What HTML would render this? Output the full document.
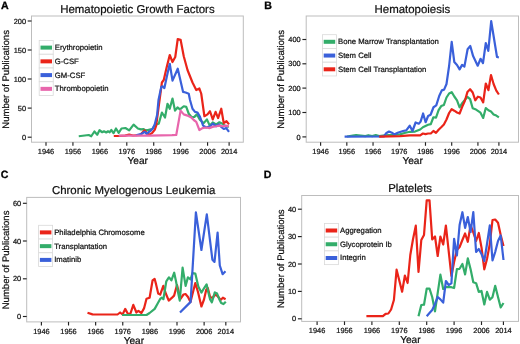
<!DOCTYPE html><html><head><meta charset="utf-8"><style>
html,body{margin:0;padding:0;background:#fff;width:520px;height:344px;overflow:hidden}
svg{display:block;filter:blur(0.3px)}
text{font-family:"Liberation Sans", sans-serif;stroke:#111;stroke-width:0.22px;text-rendering:geometricPrecision}
</style></head><body>
<svg width="520" height="344" viewBox="0 0 520 344">
<rect width="520" height="344" fill="#fff"/>
<g><text x="1" y="8.6" font-size="10.6" font-weight="bold" fill="#000" style="stroke:#000;stroke-width:0.3px">A</text><text x="137.4" y="13" font-size="11.45" text-anchor="middle" fill="#111">Hematopoietic Growth Factors</text><rect x="31.5" y="16" width="211.8" height="126.2" fill="none" stroke="#bdbdbd" stroke-width="1"/><line x1="27.7" y1="137.2" x2="31.5" y2="137.2" stroke="#222222" stroke-width="1.15"/><text x="26" y="139.8" font-size="7.4" text-anchor="end" fill="#111111">0</text><line x1="27.7" y1="108.1" x2="31.5" y2="108.1" stroke="#222222" stroke-width="1.15"/><text x="26" y="110.7" font-size="7.4" text-anchor="end" fill="#111111">50</text><line x1="27.7" y1="79" x2="31.5" y2="79" stroke="#222222" stroke-width="1.15"/><text x="26" y="81.6" font-size="7.4" text-anchor="end" fill="#111111">100</text><line x1="27.7" y1="50" x2="31.5" y2="50" stroke="#222222" stroke-width="1.15"/><text x="26" y="52.6" font-size="7.4" text-anchor="end" fill="#111111">150</text><line x1="27.7" y1="21" x2="31.5" y2="21" stroke="#222222" stroke-width="1.15"/><text x="26" y="23.6" font-size="7.4" text-anchor="end" fill="#111111">200</text><line x1="46" y1="142.2" x2="46" y2="145.8" stroke="#222222" stroke-width="1.15"/><text x="46" y="153.8" font-size="7.4" text-anchor="middle" fill="#111111">1946</text><line x1="72.93" y1="142.2" x2="72.93" y2="145.8" stroke="#222222" stroke-width="1.15"/><text x="72.93" y="153.8" font-size="7.4" text-anchor="middle" fill="#111111">1956</text><line x1="99.86" y1="142.2" x2="99.86" y2="145.8" stroke="#222222" stroke-width="1.15"/><text x="99.86" y="153.8" font-size="7.4" text-anchor="middle" fill="#111111">1966</text><line x1="126.79" y1="142.2" x2="126.79" y2="145.8" stroke="#222222" stroke-width="1.15"/><text x="126.79" y="153.8" font-size="7.4" text-anchor="middle" fill="#111111">1976</text><line x1="153.72" y1="142.2" x2="153.72" y2="145.8" stroke="#222222" stroke-width="1.15"/><text x="153.72" y="153.8" font-size="7.4" text-anchor="middle" fill="#111111">1986</text><line x1="180.65" y1="142.2" x2="180.65" y2="145.8" stroke="#222222" stroke-width="1.15"/><text x="180.65" y="153.8" font-size="7.4" text-anchor="middle" fill="#111111">1996</text><line x1="207.58" y1="142.2" x2="207.58" y2="145.8" stroke="#222222" stroke-width="1.15"/><text x="207.58" y="153.8" font-size="7.4" text-anchor="middle" fill="#111111">2006</text><line x1="229.12" y1="142.2" x2="229.12" y2="145.8" stroke="#222222" stroke-width="1.15"/><text x="229.12" y="153.8" font-size="7.4" text-anchor="middle" fill="#111111">2014</text><text x="137.7" y="163.8" font-size="10.1" text-anchor="middle" fill="#111111">Year</text><text transform="translate(9.3 79.4) rotate(-90)" font-size="9.55" text-anchor="middle" fill="#111111">Number of Publications</text><polyline points="78.75,136.25 88.75,135 91.25,136.25 94.4,131.5 97.25,134.75 99.5,130.25 102.25,132.25 104,131.25 106.25,132.5 108,131.25 109.75,132.25 111.25,130 113.5,133.2 116,128.5 118.7,132.8 121.5,128.5 125.4,128 129.2,130.4 133.6,124.6 137.9,128.5 140.8,129.4 143.7,129.2 145.6,130.4 148.5,129.9 152.3,129 155.2,124.6 158.75,123.75 161.9,112.5 165,117.5 167.5,103.75 169.75,108.75 172.5,98.5 175,110.6 177.5,107.5 180,109.4 183.75,106.25 186.25,106.9 188.75,113.75 191.9,117.5 194.4,116.9 196.9,114.4 200,120 203.75,123.1 206.9,119.4 209.75,125.6 212.75,122.5 216.25,124.4 219.4,122.25 222.5,123.75 225.6,126.25 228.75,126.9" fill="none" stroke="#33ad6a" stroke-width="2.2" stroke-linejoin="round" stroke-linecap="butt"/><polyline points="113.8,136 118.7,136 125,135.6 129.2,134.7 133,135.5 140,135 144.6,130.4 147,133.3 149.4,134.7 152.3,132.8 154.7,129.9 156.2,125.6 158.5,108 161.9,82.5 163.75,80 166.5,68 169.75,55 172.5,62 175.25,57 177.75,39 180.6,39.75 183.75,56.25 187.5,70 192.5,82.5 196.25,90 199.4,88.5 201.25,93.75 204.4,116.25 207.5,114.4 210,111.25 212.75,119.4 215.6,111.9 218.1,118.1 221.25,108.75 223.75,123.1 226.5,121.25 229,124.4" fill="none" stroke="#ea2419" stroke-width="2.2" stroke-linejoin="round" stroke-linecap="butt"/><polyline points="136,135.2 141.7,133.75 144.6,131.8 146.5,133.75 150.4,130.9 152.8,128.5 154.7,124.6 157.1,115 158.5,100 161.25,86.9 162.5,86.25 164.4,88.1 166.9,76.25 169.75,63.75 172.5,80.6 177.75,68.75 183.1,91.9 185.6,92.5 188.75,93.75 190,100 192.5,108.75 195,111.9 197.5,112.5 200,116.9 203.1,125.6 206.25,127.5 210,126.25 212.75,123.75 216.25,126.25 218.75,124.4 221.9,127.5 223.75,129 226.25,128.1 229,131.9" fill="none" stroke="#3a60da" stroke-width="2.2" stroke-linejoin="round" stroke-linecap="butt"/><polyline points="118.7,135.7 150,135.6 172,135.2 176.25,135 180.6,110.6 183.75,114.4 187.5,115.6 191.25,117.5 193.75,120 196.25,121.9 199.4,130 202.5,128.1 206.25,127.5 209.4,128.1 212.5,126.9 216.25,126.25 219.4,125.6 222.5,126.25 225.6,125.6 228.75,126.25" fill="none" stroke="#e866ac" stroke-width="2.2" stroke-linejoin="round" stroke-linecap="butt"/><rect x="39.2" y="40.5" width="14" height="13.75" fill="#fff" stroke="#d9d9d9" stroke-width="0.8"/><rect x="40.5" y="45.6" width="11.5" height="4" fill="#33ad6a"/><text x="54.8" y="50" font-size="7.72" fill="#111111">Erythropoietin</text><rect x="39.2" y="54.25" width="14" height="13.75" fill="#fff" stroke="#d9d9d9" stroke-width="0.8"/><rect x="40.5" y="59.35" width="11.5" height="4" fill="#ea2419"/><text x="54.8" y="63.75" font-size="7.72" fill="#111111">G-CSF</text><rect x="39.2" y="68" width="14" height="13.75" fill="#fff" stroke="#d9d9d9" stroke-width="0.8"/><rect x="40.5" y="73.1" width="11.5" height="4" fill="#3a60da"/><text x="54.8" y="77.5" font-size="7.72" fill="#111111">GM-CSF</text><rect x="39.2" y="81.75" width="14" height="13.75" fill="#fff" stroke="#d9d9d9" stroke-width="0.8"/><rect x="40.5" y="86.85" width="11.5" height="4" fill="#e866ac"/><text x="54.8" y="91.25" font-size="7.72" fill="#111111">Thrombopoietin</text></g>
<g><text x="264.2" y="8.6" font-size="10.6" font-weight="bold" fill="#000" style="stroke:#000;stroke-width:0.3px">B</text><text x="412.35" y="13" font-size="11.45" text-anchor="middle" fill="#111">Hematopoiesis</text><rect x="306.2" y="16" width="212.3" height="126.2" fill="none" stroke="#bdbdbd" stroke-width="1"/><line x1="302.4" y1="136.9" x2="306.2" y2="136.9" stroke="#222222" stroke-width="1.15"/><text x="300.7" y="139.5" font-size="7.4" text-anchor="end" fill="#111111">0</text><line x1="302.4" y1="112.5" x2="306.2" y2="112.5" stroke="#222222" stroke-width="1.15"/><text x="300.7" y="115.1" font-size="7.4" text-anchor="end" fill="#111111">100</text><line x1="302.4" y1="88.1" x2="306.2" y2="88.1" stroke="#222222" stroke-width="1.15"/><text x="300.7" y="90.7" font-size="7.4" text-anchor="end" fill="#111111">200</text><line x1="302.4" y1="63.8" x2="306.2" y2="63.8" stroke="#222222" stroke-width="1.15"/><text x="300.7" y="66.4" font-size="7.4" text-anchor="end" fill="#111111">300</text><line x1="302.4" y1="39.5" x2="306.2" y2="39.5" stroke="#222222" stroke-width="1.15"/><text x="300.7" y="42.1" font-size="7.4" text-anchor="end" fill="#111111">400</text><line x1="320.6" y1="142.2" x2="320.6" y2="145.8" stroke="#222222" stroke-width="1.15"/><text x="320.6" y="153.8" font-size="7.4" text-anchor="middle" fill="#111111">1946</text><line x1="346.82" y1="142.2" x2="346.82" y2="145.8" stroke="#222222" stroke-width="1.15"/><text x="346.82" y="153.8" font-size="7.4" text-anchor="middle" fill="#111111">1956</text><line x1="373.04" y1="142.2" x2="373.04" y2="145.8" stroke="#222222" stroke-width="1.15"/><text x="373.04" y="153.8" font-size="7.4" text-anchor="middle" fill="#111111">1966</text><line x1="399.26" y1="142.2" x2="399.26" y2="145.8" stroke="#222222" stroke-width="1.15"/><text x="399.26" y="153.8" font-size="7.4" text-anchor="middle" fill="#111111">1976</text><line x1="425.48" y1="142.2" x2="425.48" y2="145.8" stroke="#222222" stroke-width="1.15"/><text x="425.48" y="153.8" font-size="7.4" text-anchor="middle" fill="#111111">1986</text><line x1="451.7" y1="142.2" x2="451.7" y2="145.8" stroke="#222222" stroke-width="1.15"/><text x="451.7" y="153.8" font-size="7.4" text-anchor="middle" fill="#111111">1996</text><line x1="477.92" y1="142.2" x2="477.92" y2="145.8" stroke="#222222" stroke-width="1.15"/><text x="477.92" y="153.8" font-size="7.4" text-anchor="middle" fill="#111111">2006</text><line x1="498.9" y1="142.2" x2="498.9" y2="145.8" stroke="#222222" stroke-width="1.15"/><text x="498.9" y="153.8" font-size="7.4" text-anchor="middle" fill="#111111">2014</text><text x="412.65" y="163.8" font-size="10.1" text-anchor="middle" fill="#111111">Year</text><text transform="translate(284 79.4) rotate(-90)" font-size="9.55" text-anchor="middle" fill="#111111">Number of Publications</text><polyline points="347,136.5 352.7,135.6 356.1,135 360.8,135.6 365.4,136.1 368.3,135.2 372.3,136.1 375.8,135 379.2,136.1 383,135.6 388.4,135 394.2,135 400,134.4 404.5,133 409.8,131.8 415,131.6 420.2,129.5 422.9,127.25 425.5,126 428.1,124.8 430.8,124.1 433.4,117.25 436,117.7 438.6,110.2 441.2,106.1 443.9,104.9 446.5,97.5 449.1,93.5 451.7,92.1 454.3,96.5 457,100.3 459.6,107.3 462.2,103.2 464.8,100 467.4,96.8 470.1,99.1 472.7,108.2 475.3,109.2 477.9,110.9 480.5,112.7 483.2,117.9 485.8,108 488.4,110.3 491,111.5 493.6,114.4 496.3,115.6 498.9,117.3" fill="none" stroke="#33ad6a" stroke-width="2.2" stroke-linejoin="round" stroke-linecap="butt"/><polyline points="344.6,136.7 383.8,136.5 386.1,133.3 389,131.5 391.9,132.7 394.2,134.4 397.7,132.7 400,132 403.1,131 406.25,130.4 409.75,125.75 412.5,131 415.6,122.5 418.75,123.75 420.6,121.6 423.1,113.5 425.6,122.25 428.1,116 430.6,114.75 433.5,107.25 436.25,105.4 439.2,96 441.8,90.4 444.1,89.6 446.5,84 449.1,66 451.7,41.9 454.3,62 457,65 459.6,69.4 462.1,64.9 464.4,66.6 467.6,49.3 470.3,46 473.1,56.1 477.7,65.7 480.6,58.8 483,63.1 485.8,43 488.3,50.9 491.2,21.2 497,57 498.9,57.4" fill="none" stroke="#3a60da" stroke-width="2.2" stroke-linejoin="round" stroke-linecap="butt"/><polyline points="379.2,136.7 400,136.1 409.8,135.4 420.2,135.4 422.9,133.5 425.5,134.1 428.1,133.5 430.8,133.5 433.4,131 436,132.9 438.6,129.75 441.2,127.25 443.9,124.5 446.5,119.5 449.1,113 451.7,109.2 454.3,110.7 457,112.5 459.6,113.5 462.2,106.8 464.8,101 467.4,92.1 470.1,89.2 472.7,92.5 475.3,100.3 477.9,96.7 480.5,97.5 483.2,102.4 485.8,83.5 488.4,90.2 491,75 493.6,84 496.3,90.6 498.9,94.5" fill="none" stroke="#ea2419" stroke-width="2.2" stroke-linejoin="round" stroke-linecap="butt"/><rect x="322.4" y="34.7" width="14" height="13.75" fill="#fff" stroke="#d9d9d9" stroke-width="0.8"/><rect x="323.7" y="39.8" width="11.5" height="4" fill="#33ad6a"/><text x="338" y="44.2" font-size="7.72" fill="#111111">Bone Marrow Transplantation</text><rect x="322.4" y="48.45" width="14" height="13.75" fill="#fff" stroke="#d9d9d9" stroke-width="0.8"/><rect x="323.7" y="53.55" width="11.5" height="4" fill="#3a60da"/><text x="338" y="57.95" font-size="7.72" fill="#111111">Stem Cell</text><rect x="322.4" y="62.2" width="14" height="13.75" fill="#fff" stroke="#d9d9d9" stroke-width="0.8"/><rect x="323.7" y="67.3" width="11.5" height="4" fill="#ea2419"/><text x="338" y="71.7" font-size="7.72" fill="#111111">Stem Cell Transplantation</text></g>
<g><text x="0.8" y="177.9" font-size="10.6" font-weight="bold" fill="#000" style="stroke:#000;stroke-width:0.3px">C</text><text x="133.6" y="194.4" font-size="11.45" text-anchor="middle" fill="#111">Chronic Myelogenous Leukemia</text><rect x="26.7" y="197.4" width="213.8" height="124.5" fill="none" stroke="#bdbdbd" stroke-width="1"/><line x1="22.9" y1="316.5" x2="26.7" y2="316.5" stroke="#222222" stroke-width="1.15"/><text x="21.2" y="319.1" font-size="7.4" text-anchor="end" fill="#111111">0</text><line x1="22.9" y1="278.8" x2="26.7" y2="278.8" stroke="#222222" stroke-width="1.15"/><text x="21.2" y="281.4" font-size="7.4" text-anchor="end" fill="#111111">20</text><line x1="22.9" y1="241" x2="26.7" y2="241" stroke="#222222" stroke-width="1.15"/><text x="21.2" y="243.6" font-size="7.4" text-anchor="end" fill="#111111">40</text><line x1="22.9" y1="203.3" x2="26.7" y2="203.3" stroke="#222222" stroke-width="1.15"/><text x="21.2" y="205.9" font-size="7.4" text-anchor="end" fill="#111111">60</text><line x1="41.4" y1="321.9" x2="41.4" y2="325.5" stroke="#222222" stroke-width="1.15"/><text x="41.4" y="333.5" font-size="7.4" text-anchor="middle" fill="#111111">1946</text><line x1="68.52" y1="321.9" x2="68.52" y2="325.5" stroke="#222222" stroke-width="1.15"/><text x="68.52" y="333.5" font-size="7.4" text-anchor="middle" fill="#111111">1956</text><line x1="95.64" y1="321.9" x2="95.64" y2="325.5" stroke="#222222" stroke-width="1.15"/><text x="95.64" y="333.5" font-size="7.4" text-anchor="middle" fill="#111111">1966</text><line x1="122.76" y1="321.9" x2="122.76" y2="325.5" stroke="#222222" stroke-width="1.15"/><text x="122.76" y="333.5" font-size="7.4" text-anchor="middle" fill="#111111">1976</text><line x1="149.88" y1="321.9" x2="149.88" y2="325.5" stroke="#222222" stroke-width="1.15"/><text x="149.88" y="333.5" font-size="7.4" text-anchor="middle" fill="#111111">1986</text><line x1="177" y1="321.9" x2="177" y2="325.5" stroke="#222222" stroke-width="1.15"/><text x="177" y="333.5" font-size="7.4" text-anchor="middle" fill="#111111">1996</text><line x1="204.12" y1="321.9" x2="204.12" y2="325.5" stroke="#222222" stroke-width="1.15"/><text x="204.12" y="333.5" font-size="7.4" text-anchor="middle" fill="#111111">2006</text><line x1="225.82" y1="321.9" x2="225.82" y2="325.5" stroke="#222222" stroke-width="1.15"/><text x="225.82" y="333.5" font-size="7.4" text-anchor="middle" fill="#111111">2014</text><text x="133.9" y="343.5" font-size="10.1" text-anchor="middle" fill="#111111">Year</text><text transform="translate(9.1 259.95) rotate(-90)" font-size="9.55" text-anchor="middle" fill="#111111">Number of Publications</text><polyline points="87.5,312.75 92.5,314.4 117.5,314.5 120.1,312.5 122.6,314.5 125.2,308.9 127.7,313.5 130.3,314 133.3,304.8 136.4,312.5 138.4,310.9 141.4,313 144,308.4 146.5,298.7 149.6,297.7 152.6,280.3 154.6,278.8 156.1,284.4 158.2,293.5 160.2,294.6 163.3,285.9 165.8,293.5 168.75,300.6 171.5,298.2 174.1,295.6 177,285 180.3,299 183.5,294.5 185.5,294 188,297 190.5,302 195.3,283.1 198,292 201.4,306.5 204,299.5 206.3,289.5 207.8,288 210.1,297 212.5,298 215,294.5 217.5,296 220.6,300 222.9,297.7 225.6,299.2" fill="none" stroke="#ea2419" stroke-width="2.2" stroke-linejoin="round" stroke-linecap="butt"/><polyline points="122.1,315 146.5,315 149.6,313 154.7,308.9 157.8,303.3 160.3,298.7 161.9,297.7 163.4,299.2 166.3,281.3 168.9,277.3 171.4,280.3 174.2,272.7 176,281.3 178.5,294.6 179.75,300.6 182.6,267.6 185.6,285.9 187.9,277.4 190.6,279.4 192.5,273.1 195.3,273.5 198.3,286.5 201.4,292.6 204.3,287.8 206.6,284.3 208.4,292.4 210.1,299.4 211.9,302.3 214.8,292.4 217.1,293.6 219.4,299.4 221.2,302.9 223.5,304.1 225.8,301.7" fill="none" stroke="#33ad6a" stroke-width="2.2" stroke-linejoin="round" stroke-linecap="butt"/><polyline points="180,312.5 189.4,303.1 190.6,301.9 195.9,212.3 201.4,250 206.8,214.4 212.4,259.7 214.5,261.9 217.6,232.6 219.8,265.5 222.6,274.2 225.5,271.3" fill="none" stroke="#3a60da" stroke-width="2.2" stroke-linejoin="round" stroke-linecap="butt"/><rect x="38.6" y="225.3" width="14" height="13.75" fill="#fff" stroke="#d9d9d9" stroke-width="0.8"/><rect x="39.9" y="230.4" width="11.5" height="4" fill="#ea2419"/><text x="54.2" y="234.8" font-size="7.72" fill="#111111">Philadelphia Chromosome</text><rect x="38.6" y="239.05" width="14" height="13.75" fill="#fff" stroke="#d9d9d9" stroke-width="0.8"/><rect x="39.9" y="244.15" width="11.5" height="4" fill="#33ad6a"/><text x="54.2" y="248.55" font-size="7.72" fill="#111111">Transplantation</text><rect x="38.6" y="252.8" width="14" height="13.75" fill="#fff" stroke="#d9d9d9" stroke-width="0.8"/><rect x="39.9" y="257.9" width="11.5" height="4" fill="#3a60da"/><text x="54.2" y="262.3" font-size="7.72" fill="#111111">Imatinib</text></g>
<g><text x="263.7" y="177.8" font-size="10.6" font-weight="bold" fill="#000" style="stroke:#000;stroke-width:0.3px">D</text><text x="410.1" y="191.8" font-size="11.45" text-anchor="middle" fill="#111">Platelets</text><rect x="301.7" y="195.5" width="216.8" height="125.9" fill="none" stroke="#bdbdbd" stroke-width="1"/><line x1="297.9" y1="318.8" x2="301.7" y2="318.8" stroke="#222222" stroke-width="1.15"/><text x="296.2" y="321.4" font-size="7.4" text-anchor="end" fill="#111111">0</text><line x1="297.9" y1="291.4" x2="301.7" y2="291.4" stroke="#222222" stroke-width="1.15"/><text x="296.2" y="294" font-size="7.4" text-anchor="end" fill="#111111">10</text><line x1="297.9" y1="264" x2="301.7" y2="264" stroke="#222222" stroke-width="1.15"/><text x="296.2" y="266.6" font-size="7.4" text-anchor="end" fill="#111111">20</text><line x1="297.9" y1="236.6" x2="301.7" y2="236.6" stroke="#222222" stroke-width="1.15"/><text x="296.2" y="239.2" font-size="7.4" text-anchor="end" fill="#111111">30</text><line x1="297.9" y1="209.2" x2="301.7" y2="209.2" stroke="#222222" stroke-width="1.15"/><text x="296.2" y="211.8" font-size="7.4" text-anchor="end" fill="#111111">40</text><line x1="317.1" y1="321.4" x2="317.1" y2="325" stroke="#222222" stroke-width="1.15"/><text x="317.1" y="333" font-size="7.4" text-anchor="middle" fill="#111111">1946</text><line x1="344.5" y1="321.4" x2="344.5" y2="325" stroke="#222222" stroke-width="1.15"/><text x="344.5" y="333" font-size="7.4" text-anchor="middle" fill="#111111">1956</text><line x1="371.9" y1="321.4" x2="371.9" y2="325" stroke="#222222" stroke-width="1.15"/><text x="371.9" y="333" font-size="7.4" text-anchor="middle" fill="#111111">1966</text><line x1="399.3" y1="321.4" x2="399.3" y2="325" stroke="#222222" stroke-width="1.15"/><text x="399.3" y="333" font-size="7.4" text-anchor="middle" fill="#111111">1976</text><line x1="426.7" y1="321.4" x2="426.7" y2="325" stroke="#222222" stroke-width="1.15"/><text x="426.7" y="333" font-size="7.4" text-anchor="middle" fill="#111111">1986</text><line x1="454.1" y1="321.4" x2="454.1" y2="325" stroke="#222222" stroke-width="1.15"/><text x="454.1" y="333" font-size="7.4" text-anchor="middle" fill="#111111">1996</text><line x1="481.5" y1="321.4" x2="481.5" y2="325" stroke="#222222" stroke-width="1.15"/><text x="481.5" y="333" font-size="7.4" text-anchor="middle" fill="#111111">2006</text><line x1="503.42" y1="321.4" x2="503.42" y2="325" stroke="#222222" stroke-width="1.15"/><text x="503.42" y="333" font-size="7.4" text-anchor="middle" fill="#111111">2014</text><text x="410.4" y="343" font-size="10.1" text-anchor="middle" fill="#111111">Year</text><text transform="translate(284.1 258.75) rotate(-90)" font-size="9.55" text-anchor="middle" fill="#111111">Number of Publications</text><polyline points="366.4,316.1 382.9,316.1 385.6,313.8 388.4,313.5 391.1,309.5 393.9,300 396.6,269.7 402.1,291.7 404.9,275.5 407.6,283 410.3,255 413,239.3 415.8,225.7 418.5,272 421.3,240 424,235 426.7,200.4 429.5,200.4 432.2,239.4 435,236.5 437.7,256 440.4,236.5 443.2,244.5 445.9,225.5 451.4,276 454.1,262 456.9,250 459.6,247 462.4,240 465.1,233.5 467.8,241.8 470.6,225.3 473.3,232.3 476.1,241 478.8,233 481.5,247.5 484.3,269.3 487,259 489.8,244 492.5,220 495.2,219.5 498,222.7 500.7,234.9 503.5,246" fill="none" stroke="#ea2419" stroke-width="2.2" stroke-linejoin="round" stroke-linecap="butt"/><polyline points="418.5,316.2 421.3,305 424,304.7 426.7,288.7 429.5,288.7 432.2,297 435,311.4 440.4,274.6 443.2,289 445.9,287.2 448.7,287.2 451.4,287.2 454.1,288 456.9,269.2 459.6,268.8 462.4,264 465.1,274.4 467.8,258.4 470.6,269.2 473.3,282.3 476.1,283.2 478.8,291.9 481.5,291 484.3,304.5 487,291.9 489.8,299.7 492.5,297.1 495.2,285.8 498,297 500.7,307.5 503.5,303" fill="none" stroke="#33ad6a" stroke-width="2.2" stroke-linejoin="round" stroke-linecap="butt"/><polyline points="426.7,316.2 429.5,313 432.2,310 435,304 437.7,297 440.4,299.4 443.2,302.6 445.9,281 448.7,285 451.4,283.4 454.1,238.8 456.9,255.5 459.6,225 462.4,212.2 465.1,227.9 467.8,217 470.6,232 473.3,212.2 476.1,252 478.8,249 481.5,254 484.3,261 487,244 489.8,225.3 492.5,260.5 495.2,252 498,241 500.7,235.5 503.5,260" fill="none" stroke="#3a60da" stroke-width="2.2" stroke-linejoin="round" stroke-linecap="butt"/><rect x="324.4" y="223.4" width="14" height="13.75" fill="#fff" stroke="#d9d9d9" stroke-width="0.8"/><rect x="325.7" y="228.5" width="11.5" height="4" fill="#ea2419"/><text x="340" y="232.9" font-size="7.72" fill="#111111">Aggregation</text><rect x="324.4" y="237.15" width="14" height="13.75" fill="#fff" stroke="#d9d9d9" stroke-width="0.8"/><rect x="325.7" y="242.25" width="11.5" height="4" fill="#33ad6a"/><text x="340" y="246.65" font-size="7.72" fill="#111111">Glycoprotein Ib</text><rect x="324.4" y="250.9" width="14" height="13.75" fill="#fff" stroke="#d9d9d9" stroke-width="0.8"/><rect x="325.7" y="256" width="11.5" height="4" fill="#3a60da"/><text x="340" y="260.4" font-size="7.72" fill="#111111">Integrin</text></g>
</svg></body></html>
